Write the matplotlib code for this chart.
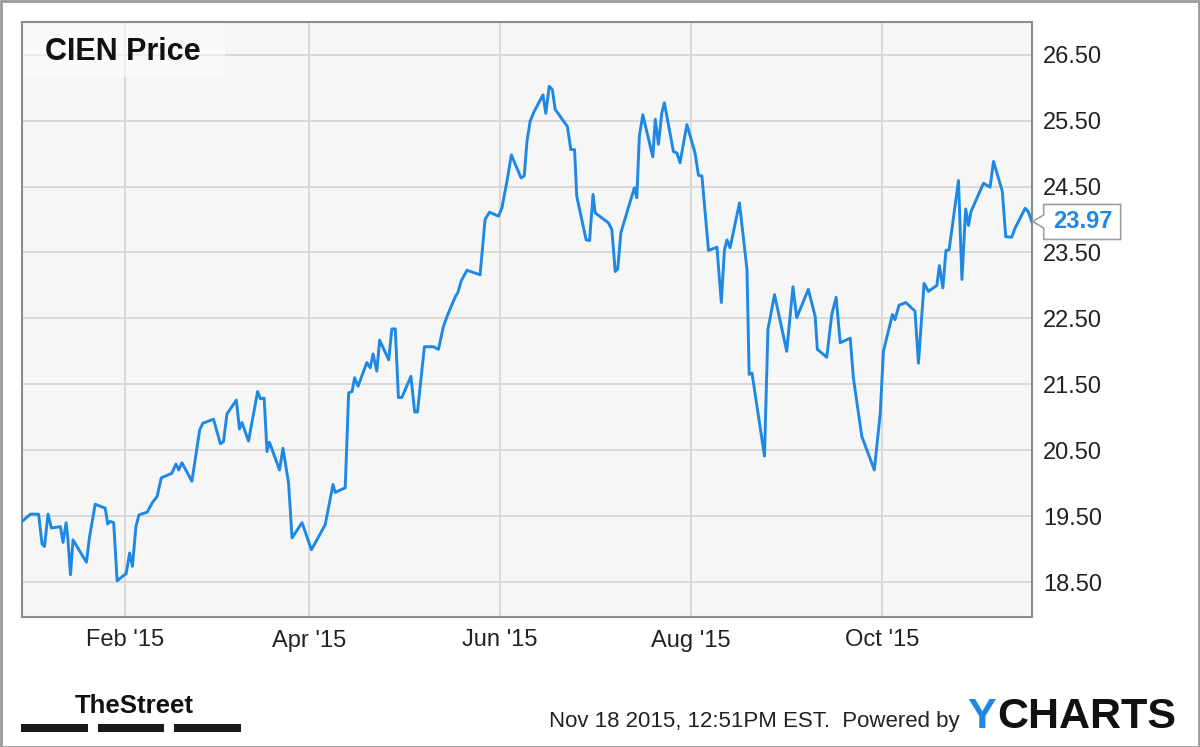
import matplotlib
matplotlib.use("Agg")
import matplotlib.pyplot as plt
import matplotlib.dates as mdates
from matplotlib.patches import Rectangle, Polygon
from matplotlib.ticker import FixedLocator, FuncFormatter
from matplotlib import font_manager
import numpy as np
import pandas as pd

# ---- data (day offset from 2015-01-01, closing price) ----
day_of_year = [-1.8, 0.9, 3.5, 4.6, 5.4, 6.5, 7.6, 10.5, 11.3, 12.3,
               12.8, 13.7, 14.5, 18.8, 19.8, 21.6, 24.8, 25.6, 26.4, 27.5,
               28.6, 31.5, 32.6, 33.5, 34.6, 35.6, 38.2, 39.8, 41.4, 42.7,
               46.1, 47.4, 48.3, 49.3, 52.5, 55.0, 56.0, 59.4, 61.6, 62.6,
               63.7, 66.7, 67.7, 68.5, 70.6, 73.5, 74.4, 75.6, 76.5, 77.3,
               80.5, 81.6, 83.4, 84.5, 87.7, 90.7, 95.1, 97.6, 98.3, 101.5,
               102.6, 103.7, 104.5, 105.6, 108.4, 109.5, 110.4, 111.6, 112.5, 115.4,
               116.4, 117.5, 118.5, 119.6, 122.5, 123.7, 124.6, 126.8, 129.7, 131.3,
               132.9, 134.3, 136.7, 137.5, 138.6, 140.4, 144.6, 146.2, 147.6, 150.5,
               151.6, 153.2, 154.6, 157.7, 158.7, 159.6, 160.6, 161.9, 164.7, 165.6,
               166.7, 167.7, 168.6, 172.5, 173.6, 174.8, 175.5, 178.5, 179.6, 180.7,
               181.4, 185.6, 186.7, 187.8, 188.6, 189.6, 193.1, 193.9, 194.7, 195.5,
               196.6, 199.8, 200.6, 201.6, 202.7, 203.5, 206.4, 207.5, 208.5, 210.7,
               213.3, 214.4, 215.5, 217.6, 220.3, 221.7, 222.7, 223.5, 224.5, 227.5,
               229.9, 230.6, 231.5, 235.5, 236.6, 238.7, 242.6, 244.6, 245.8, 249.5,
               251.7, 252.4, 255.4, 257.0, 258.4, 259.7, 262.9, 263.9, 266.6, 270.6,
               272.5, 273.5, 276.4, 277.2, 278.5, 280.7, 283.6, 284.7, 286.5, 287.9,
               290.6, 291.4, 292.5, 293.5, 294.5, 297.5, 298.6, 299.8, 300.7, 301.5,
               305.5, 307.6, 308.7, 311.5, 312.6, 314.5, 315.6, 318.8, 319.8, 320.9]

prices = [19.42, 19.53, 19.53, 19.08, 19.04, 19.53, 19.32, 19.34, 19.10, 19.40,
          19.19, 18.61, 19.14, 18.80, 19.19, 19.68, 19.62, 19.38, 19.42, 19.40,
          18.52, 18.63, 18.94, 18.74, 19.34, 19.52, 19.56, 19.70, 19.80, 20.08,
          20.15, 20.29, 20.20, 20.31, 20.03, 20.81, 20.91, 20.97, 20.60, 20.63,
          21.05, 21.26, 20.82, 20.92, 20.64, 21.39, 21.28, 21.29, 20.48, 20.62,
          20.20, 20.53, 20.00, 19.17, 19.40, 18.99, 19.37, 19.98, 19.86, 19.93,
          21.37, 21.39, 21.60, 21.47, 21.83, 21.75, 21.96, 21.70, 22.17, 21.87,
          22.34, 22.34, 21.30, 21.30, 21.62, 21.08, 21.08, 22.07, 22.07, 22.03,
          22.38, 22.56, 22.83, 22.89, 23.07, 23.23, 23.16, 24.00, 24.11, 24.05,
          24.18, 24.58, 24.98, 24.63, 24.66, 25.19, 25.49, 25.64, 25.89, 25.61,
          26.02, 25.97, 25.67, 25.41, 25.06, 25.06, 24.35, 23.69, 23.68, 24.38,
          24.10, 23.95, 23.85, 23.21, 23.25, 23.80, 24.35, 24.48, 24.33, 25.26,
          25.59, 24.95, 25.52, 25.14, 25.62, 25.77, 25.03, 25.01, 24.86, 25.44,
          25.01, 24.67, 24.66, 23.53, 23.58, 22.74, 23.54, 23.69, 23.57, 24.25,
          23.24, 21.65, 21.67, 20.41, 22.33, 22.86, 22.00, 22.98, 22.51, 22.94,
          22.53, 22.03, 21.91, 22.56, 22.82, 22.13, 22.20, 21.60, 20.71, 20.20,
          21.06, 22.00, 22.56, 22.48, 22.70, 22.74, 22.61, 21.82, 23.03, 22.91,
          23.00, 23.30, 22.96, 23.53, 23.54, 24.59, 23.09, 24.16, 23.91, 24.12,
          24.55, 24.49, 24.88, 24.43, 23.74, 23.73, 23.87, 24.17, 24.12, 23.97]

y_ticks = [18.5, 19.5, 20.5, 21.5, 22.5, 23.5, 24.5, 25.5, 26.5]
title_text = "CIEN Price"
last_label = "23.97"
footer_text = "Nov 18 2015, 12:51PM EST.  Powered by"

# ---- style ----
plt.rcParams['font.family'] = ['Liberation Sans', 'DejaVu Sans']
LINE = '#1E88E5'
W, H = 1200, 747

dates = pd.Timestamp('2015-01-01') + pd.to_timedelta(day_of_year, unit='D')

fig = plt.figure(figsize=(W / 100, H / 100), dpi=100, facecolor='white')
ax = fig.add_axes([22 / W, 1 - 617 / H, (1031.7 - 22) / W, (617 - 21.7) / H])
ax.set_facecolor('#f6f6f6')

ax.plot(dates, prices, color=LINE, lw=2.1, solid_joinstyle='round', zorder=3)

ax.set_xlim(dates[0], dates[-1])
ax.set_ylim(17.97, 27.0)

ax.xaxis.set_major_locator(mdates.MonthLocator(bymonth=[2, 4, 6, 8, 10]))
ax.xaxis.set_major_formatter(mdates.DateFormatter("%b '%y"))
ax.yaxis.set_major_locator(FixedLocator(y_ticks))
ax.yaxis.set_major_formatter(FuncFormatter(lambda v, p: f"{v:.2f}"))
ax.yaxis.tick_right()
ax.tick_params(axis='both', length=0, labelsize=17, colors='#222222')
ax.tick_params(axis='y', pad=8)
ax.tick_params(axis='x', pad=9)
ax.grid(True, color='#d9d9d9', lw=1.4, zorder=0)
ax.set_axisbelow(True)
for s in ax.spines.values():
    s.set_color('#8c8c8c')
    s.set_linewidth(1.5)

# title box
ax.add_patch(Rectangle((0, 1 - 55 / 595), 203 / 1010, 55 / 595, transform=ax.transAxes,
                       facecolor='white', alpha=0.55, edgecolor='none', zorder=2))
fig.text(45 / W, 1 - 60 / H, title_text, fontsize=22, fontweight='bold',
         color='#111111', ha='left', va='baseline')

# last value callout
fig.canvas.draw()
tx, ty = ax.transData.transform((mdates.date2num(dates[-1]), prices[-1]))
tx += 1
shape = [(0, 0), (11, 6.5), (11, 17), (88, 17), (88, -18), (11, -18), (11, -6.5)]
poly = Polygon([(tx + dx, ty + dy) for dx, dy in shape], closed=True, transform=None,
               facecolor='white', edgecolor='#a0a0a0', lw=1.2, zorder=5, clip_on=False)
fig.add_artist(poly)
fig.text((tx + 50) / W, (ty) / H, last_label, fontsize=17, fontweight='bold',
         color=LINE, ha='center', va='center', zorder=6)

# footer: TheStreet logo (condensed face if one is installed)
narrow_family = None
for fam in ['Liberation Sans Narrow', 'Arial Narrow']:
    try:
        f = font_manager.findfont(font_manager.FontProperties(family=fam, weight='bold'),
                                  fallback_to_default=False)
        if 'narrow' in f.lower():
            narrow_family = fam
            break
    except Exception:
        pass
if narrow_family:
    logo_kw = dict(family=[narrow_family, 'Liberation Sans'], fontsize=21.5)
else:
    logo_kw = dict(family=['Liberation Sans'], fontsize=18.5)
fig.text(75 / W, 1 - 713 / H, "TheStreet", fontweight='bold',
         color='#111111', ha='left', va='baseline', **logo_kw)
for x0, x1 in [(21, 88), (98, 164), (174, 241)]:
    fig.add_artist(Rectangle((x0 / W, 1 - 731.5 / H), (x1 - x0) / W, 7.5 / H,
                             transform=fig.transFigure, facecolor='#1a1a1a', edgecolor='none'))

# footer: timestamp + YCHARTS
fig.text(960 / W, 1 - 727 / H, footer_text, fontsize=16, color='#222222',
         ha='right', va='baseline')
t_charts = fig.text(1176 / W, 1 - 728 / H, "CHARTS", fontsize=31, fontweight='bold',
                    color='#111111', ha='right', va='baseline')
fig.canvas.draw()
bb = t_charts.get_window_extent()
fig.text((bb.x0 - 1) / W, 1 - 728 / H, "Y", fontsize=31, fontweight='bold',
         color=LINE, ha='right', va='baseline')

# outer frame
fig.add_artist(Rectangle((0.5 / W, 0.5 / H), 1 - 1.5 / W, 1 - 1.5 / H, transform=fig.transFigure,
                         facecolor='none', edgecolor='#9a9a9a', lw=2))

fig.savefig("out.png", dpi=100, facecolor='white')
